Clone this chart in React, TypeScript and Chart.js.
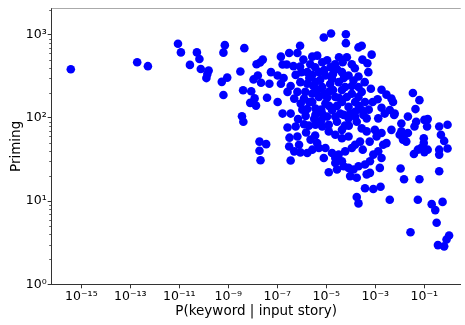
import { useEffect, useRef } from 'react';
import { Chart, registerables } from 'chart.js';

Chart.register(...registerables);

// P(keyword | input story)
const keywordProb = [
  3.7e-16, 1.9e-13, 5.2e-13, 8.8e-12, 1.16e-11, 5.2e-11, 6.6e-11, 2.7e-11, 7.5e-11, 1.57e-10,
  1.39e-10, 1.27e-10, 7.2e-10, 6.3e-10, 4.5e-9, 5.4e-10, 9.0e-10, 6.3e-10, 3.1e-9, 4.0e-9,
  8.6e-9, 7.8e-9, 1.18e-8, 1.35e-8, 1.07e-8, 1.42e-8, 3.6e-9, 4.1e-9, 1.87e-8, 3.5e-8,
  1.87e-8, 2.06e-8, 8.5e-7, 3.05e-7, 6.6e-7, 1.4e-7, 2.55e-8, 1.98e-8, 1.64e-7, 2.44e-7,
  1.16e-6, 2.67e-6, 8.5e-7, 5.5e-8, 1.6e-8, 2.17e-8, 4.75e-8, 1.03e-7, 1.8e-7, 1.4e-7,
  5.6e-7, 1.67e-6, 2.67e-6, 1.67e-6, 3.5e-7, 6.6e-7, 4.9e-7, 9.0e-7, 1.67e-6, 3.8e-8,
  1.64e-7, 3.5e-7, 1.23e-6, 2.67e-6, 2.67e-6, 7.9e-6, 1.56e-5, 6.3e-5, 6.3e-5, 2.06e-4,
  2.79e-4, 7.1e-4, 2.99e-4, 4.75e-4, 5.2e-4, 2.06e-4, 4.65e-5, 4.25e-6, 6.6e-4, 1.8e-3,
  2.86e-3, 4.56e-3, 1.24e-3, 1.8e-3, 3.9e-3, 6.2e-3, 1.47e-5, 2.73e-5, 4.35e-5, 8.1e-5,
  1.29e-4, 2.06e-4, 2.79e-4, 3.8e-4, 2.79e-4, 1.5e-4, 1.1e-4, 5.9e-5, 3.2e-5, 1.71e-5,
  9.2e-6, 5.0e-6, 3.6e-6, 6.8e-6, 1.26e-5, 2.33e-5, 4.35e-5, 8.1e-5, 1.5e-4, 5.0e-6,
  9.2e-6, 1.71e-5, 3.7e-5, 3.6e-6, 6.9e-5, 2.06e-4, 0.0343, 0.0634, 0.0437, 5.3e-3,
  5.9e-3, 0.0215, 0.0116, 0.0467, 0.101, 0.138, 0.13, 0.0398, 0.0116, 0.0157,
  0.0215, 0.0135, 0.0184, 0.407, 0.89, 0.478, 0.649, 0.89, 0.407, 0.407,
  0.0955, 0.0955, 0.0743, 0.138, 0.101, 0.0546, 0.0377, 0.0108, 0.407, 0.0149,
  0.0634, 4.56e-3, 1.64e-3, 3.9e-3, 0.0546, 0.201, 0.281, 0.558, 0.32, 0.0274,
  1.03, 0.81, 0.361, 0.649, 3.6e-6, 6.8e-6, 1.08e-5, 2.33e-5, 5.1e-5, 8.1e-5,
  1.5e-4, 3.27e-4, 4.45e-4, 1.32e-3, 2.44e-3, 2.79e-4, 9.6e-4, 1.13e-3, 1.8e-3, 9.9e-3,
  3.6e-6, 6.8e-6, 1.26e-5, 2.33e-5, 4.35e-5, 8.1e-5, 1.5e-4, 2.39e-4, 1.1e-4, 5.9e-5,
  3.2e-5, 1.71e-5, 9.2e-6, 5.0e-6, 7.9e-6, 2.33e-5, 4.35e-5, 8.1e-5, 1.29e-4, 2.06e-4,
  3.8e-4, 6.05e-4, 8.3e-4, 1.32e-3, 2.1e-3, 2.86e-3, 1.8e-3, 1.53e-3, 6.05e-4, 4.45e-4,
  5.1e-5, 9.4e-5, 1.75e-4, 1.26e-5, 2.73e-5, 3.8e-4, 8.3e-4, 1.75e-4, 2.06e-4, 7.0e-7,
  1.43e-6, 2.61e-7, 5.6e-7, 1.23e-6, 1.96e-6, 1.49e-6, 3.14e-7, 6.6e-7, 3.05e-7, 7.7e-7,
  4.9e-7, 8.7e-7, 2.28e-6, 1.67e-6, 3.5e-7, 2.67e-6, 4.25e-6, 6.8e-6, 1.08e-5, 2.27e-5,
  3.3e-5, 1.1e-4, 6.9e-5, 1.46e-4, 3.5e-6, 5.6e-6, 1.43e-5, 4.35e-5, 2.73e-5, 1.08e-5,
  2.21e-6, 1.39e-6, 8.7e-7, 4.25e-6, 8.1e-6, 1.88e-5, 1.1e-4, 2.11e-4, 9.2e-5, 5.2e-5,
  3.2e-6, 6.2e-6, 1.26e-5, 4.35e-5, 8.3e-5, 1.75e-4, 4.45e-4, 5.9e-4, 3.07e-4, 3.5e-6,
  2.02e-6, 1.05e-6, 2.33e-5, 2.93e-6, 8.1e-6, 1.88e-5, 3.3e-5, 1.3e-5, 6.2e-6, 2.73e-5,
  5.75e-5, 2.02e-6, 9.6e-7, 4.56e-7, 2.61e-7, 1.03e-7, 3.7e-4, 7.8e-4, 5.4e-4,
];

// Priming
const primingScore = [
  386, 468, 420, 781, 615, 615, 513, 435, 389, 373,
  337, 302, 752, 611, 692, 272, 306, 189, 363, 216,
  210, 152, 172, 141, 291, 443, 105, 90, 52, 48.5,
  40.3, 31, 740, 604, 604, 547, 504, 465, 439, 439,
  504, 547, 416, 356, 325, 265, 258, 325, 302, 258,
  330, 356, 330, 258, 242, 206, 171, 149, 128, 175,
  113, 113, 171, 196, 156, 929, 1036, 1017, 794, 706,
  740, 578, 504, 455, 356, 316, 468, 562, 225, 219,
  191, 171, 168, 133, 125, 113, 408, 389, 356, 325,
  283, 236, 206, 156, 125, 156, 196, 236, 270, 296,
  325, 356, 270, 236, 206, 179, 156, 136, 119, 179,
  149, 125, 113, 130, 179, 179, 200, 164, 128, 156,
  109, 104, 86, 90, 95, 97, 79, 79, 69, 63,
  66, 55, 52, 79, 83, 63, 53, 43, 41.6, 36.3,
  57, 49.9, 43.5, 41.6, 38.9, 41.6, 36.9, 24.7, 22.9, 18.3,
  18.3, 72, 14.9, 10.4, 10.4, 9.2, 7.8, 9.8, 5.5, 4.23,
  3.86, 3.46, 2.96, 2.86, 109, 113, 104, 104, 109, 99,
  104, 109, 99, 99, 113, 75, 72, 60, 66, 63,
  83, 79, 83, 63, 57, 60, 47.7, 52, 43.5, 39.7,
  36.3, 37.9, 43.5, 43.5, 33, 33, 30.2, 25.1, 24, 26.3,
  27.6, 30.2, 36.3, 39.7, 47.7, 49.9, 33, 25.1, 21.9, 21,
  26.3, 20, 19.1, 22.3, 24, 14.3, 14, 11.2, 9.4, 97,
  106, 77, 79, 84, 81, 67, 58, 60, 45.5, 47.7,
  39.7, 38.6, 55, 37.9, 30.8, 41.6, 49.9, 468, 494, 443,
  537, 443, 537, 397, 408, 286, 256, 217, 140, 175,
  443, 206, 270, 217, 376, 337, 242, 140, 112, 302,
  98, 93, 69, 72, 81, 90, 69, 52, 41.6, 61.5,
  156, 126, 28.8, 242, 195, 217, 175, 140, 126, 90,
  81, 302, 356, 420, 206, 156, 270, 156, 126,
];

const xTickValues = [1e-15, 1e-13, 1e-11, 1e-9, 1e-7, 1e-5, 1e-3, 1e-1];
const xTickLabels = ['10⁻¹⁵', '10⁻¹³', '10⁻¹¹', '10⁻⁹', '10⁻⁷', '10⁻⁵', '10⁻³', '10⁻¹'];
const yTickValues = [1, 10, 100, 1000];
const yTickLabels = ['10⁰', '10¹', '10²', '10³'];
const yMinorMultipliers = [2, 3, 4, 5, 6, 7, 8, 9];

const X_MIN = 6.14e-17;
const X_MAX = 3.07;
const Y_MIN = 1;
const Y_MAX = 2074;

const FONT = "'DejaVu Sans', sans-serif";
const AXIS_COLOR = '#333333';

const decorPlugin = {
  id: 'decor',
  afterDraw(chart: any) {
    const { ctx, chartArea, scales } = chart;
    const y = scales.y;
    ctx.save();
    ctx.strokeStyle = AXIS_COLOR;
    ctx.lineWidth = 0.8;
    for (const d of yTickValues) {
      for (const m of yMinorMultipliers) {
        const v = d * m;
        if (v > Y_MAX) continue;
        const py = Math.round(y.getPixelForValue(v)) + 0.5;
        ctx.beginPath();
        ctx.moveTo(chartArea.left - 2.5, py);
        ctx.lineTo(chartArea.left, py);
        ctx.stroke();
      }
    }
    ctx.strokeStyle = '#aaaaaa';
    ctx.lineWidth = 1.2;
    ctx.beginPath();
    ctx.moveTo(chartArea.left, chartArea.top);
    ctx.lineTo(chartArea.right, chartArea.top);
    ctx.stroke();
    ctx.restore();
  },
};

export default function App() {
  const canvasRef = useRef<HTMLCanvasElement | null>(null);

  useEffect(() => {
    const canvas = canvasRef.current;
    if (!canvas) return;
    const points = keywordProb.map((x, i) => ({ x, y: primingScore[i] }));
    const chart = new Chart(canvas, {
      type: 'scatter',
      data: {
        datasets: [
          {
            data: points,
            backgroundColor: '#0000ff',
            borderColor: '#0000ff',
            borderWidth: 0,
            pointRadius: 4.3,
            pointHoverRadius: 4.3,
          },
        ],
      },
      plugins: [decorPlugin],
      options: {
        responsive: false,
        animation: false,
        devicePixelRatio: 1,
        layout: { padding: { top: 5.7, left: 0, right: 0, bottom: 0 } },
        plugins: {
          legend: { display: false },
          tooltip: { enabled: false },
        },
        scales: {
          x: {
            type: 'logarithmic',
            min: X_MIN,
            max: X_MAX,
            afterFit: (scale: any) => {
              scale.height = 40.7;
            },
            afterBuildTicks: (scale: any) => {
              scale.ticks = xTickValues.map((v) => ({ value: v }));
            },
            border: { display: true, color: AXIS_COLOR, width: 1 },
            grid: { drawOnChartArea: false, drawTicks: true, tickLength: 4, tickColor: AXIS_COLOR },
            ticks: {
              autoSkip: false,
              maxRotation: 0,
              minRotation: 0,
              padding: 1,
              color: '#000000',
              font: { family: FONT, size: 12.5 },
              callback: (_v: any, i: number) => xTickLabels[i],
            },
            title: {
              display: true,
              text: 'P(keyword | input story)',
              color: '#000000',
              font: { family: FONT, size: 13.5 },
              padding: { top: 0, bottom: 5 },
            },
          },
          y: {
            type: 'logarithmic',
            min: Y_MIN,
            max: Y_MAX,
            afterFit: (scale: any) => {
              scale.width = 51.7;
            },
            afterBuildTicks: (scale: any) => {
              scale.ticks = yTickValues.map((v) => ({ value: v }));
            },
            border: { display: true, color: AXIS_COLOR, width: 1 },
            grid: { drawOnChartArea: false, drawTicks: true, tickLength: 4, tickColor: AXIS_COLOR },
            ticks: {
              autoSkip: false,
              padding: 1,
              color: '#000000',
              font: { family: FONT, size: 12.5 },
              callback: (_v: any, i: number) => yTickLabels[i],
            },
            title: {
              display: true,
              text: 'Priming',
              color: '#000000',
              font: { family: FONT, size: 13.5 },
              padding: { top: 8, bottom: 0 },
            },
          },
        },
      },
    });
    return () => chart.destroy();
  }, []);

  return (
    <div style={{ position: 'fixed', left: 0, top: 0, width: 465, height: 325, background: '#ffffff' }}>
      <canvas ref={canvasRef} width={465} height={325} style={{ display: 'block', width: 465, height: 325 }} />
    </div>
  );
}
